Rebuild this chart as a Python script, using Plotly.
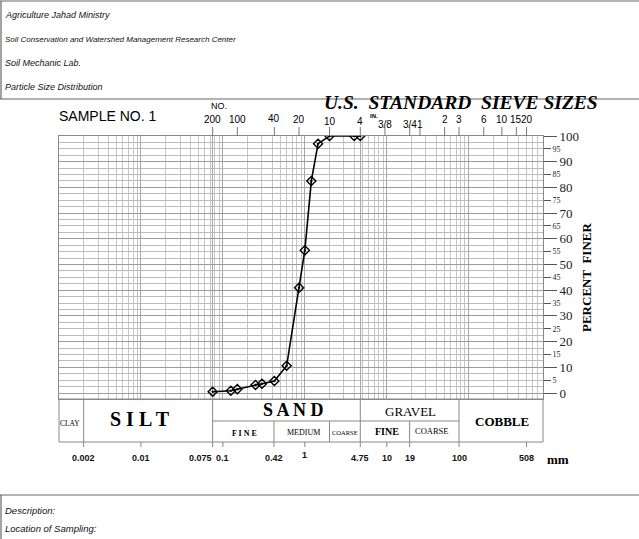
import numpy as np
import plotly.graph_objects as go

# sieve analysis
grain_mm = [0.075, 0.125, 0.15, 0.25, 0.30, 0.425, 0.60, 0.85, 1.0, 1.2, 1.45, 2.0, 4.0, 4.75]
pct_finer = [0.5, 0.9, 1.5, 3.1, 3.6, 4.7, 10.6, 41.0, 55.5, 82.5, 97.0, 100, 100, 100]

# US standard sieves along the top
sieve_no = ["200", "100", "40", "20", "10", "4"]
sieve_no_mm = [0.075, 0.15, 0.425, 0.85, 2.0, 4.75]
sieve_in = ["3/8", "3/4", "1", "2", "3", "6", "10", "15", "20"]
sieve_in_mm = [9.5, 19.05, 25.4, 50.8, 76.2, 152.4, 254.0, 381.0, 508.0]

# grain size marks under the table
size_labels = ["0.002", "0.01", "0.075", "0.1", "0.42", "1", "4.75", "10", "19", "100", "508"]
size_mm = [0.002, 0.01, 0.075, 0.1, 0.42, 1.0, 4.75, 10, 19, 76.2, 508]

# classification table
zone_edges = [0.002, 0.075, 4.75, 76.2]
sub_edges = [0.42, 2.0, 19.0]

pct_major = list(range(0, 101, 10))
pct_minor = list(range(5, 100, 10))

header = ["Agriculture Jahad Ministry",
          "Soil Conservation and Watershed Management Research Center",
          "Soil Mechanic Lab.",
          "Particle Size Distribution"]
header_size = [9, 8, 9, 9]
footer = ["Description:", "Location of Sampling:"]

SERIF = "Liberation Serif, Times New Roman, serif"
SANS = "Liberation Sans, Arial, sans-serif"

W, H = 639, 539
L, R, T, B = 59, 96, 136, 140
PW, PH = W - L - R, H - T - B


def fx(px):
    return (px - L) / PW


def fy(py):
    return (H - B - py) / PH


fig = go.Figure()
fig.add_trace(go.Scatter(
    x=grain_mm, y=pct_finer, mode="lines+markers",
    line=dict(color="black", width=1.6),
    marker=dict(symbol="diamond-open-dot", size=7, color="black", line=dict(width=1.4)),
    showlegend=False))

# log grid lines 2..9 in each decade
minor_x = [n * 10.0 ** k for k in range(-3, 3) for n in range(2, 10)]
major_x = [10.0 ** k for k in range(-3, 3)] + [0.075, 4.75]

shapes = []
line_c = "#666"
# table under the grid
shapes.append(dict(type="rect", xref="paper", yref="paper", x0=0, x1=1, y0=0, y1=fy(442),
                   line=dict(color="#888", width=1)))
shapes.append(dict(type="line", xref="x", yref="paper", x0=zone_edges[1], x1=zone_edges[3],
                   y0=fy(421), y1=fy(421), line=dict(color="#888", width=1)))
for e in zone_edges:
    shapes.append(dict(type="line", xref="x", yref="paper", x0=e, x1=e, y0=0, y1=fy(442),
                       line=dict(color="#888", width=1)))
for e in sub_edges:
    shapes.append(dict(type="line", xref="x", yref="paper", x0=e, x1=e, y0=fy(421), y1=fy(442),
                       line=dict(color="#888", width=1)))
for v in size_mm:
    shapes.append(dict(type="line", xref="x", yref="paper", x0=v, x1=v, y0=fy(442), y1=fy(447),
                       line=dict(color="#888", width=1)))
for v in sieve_no_mm + sieve_in_mm:
    shapes.append(dict(type="line", xref="x", yref="paper", x0=v, x1=v, y0=1, y1=fy(127),
                       line=dict(color="#777", width=1)))

# page frame
for (x0, y0, x1, y1) in [(0, 1, W, 1), (1, 1, 1, 99), (0, 99, W, 99), (0, 495, W, 495), (1, 495, 1, H)]:
    shapes.append(dict(type="line", xref="paper", yref="paper", x0=fx(x0), x1=fx(x1),
                       y0=fy(y0), y1=fy(y1), line=dict(color=line_c, width=1.2)))

ann = []


def text(s, px, py, size, family=SERIF, color="black", anchor="center", angle=0, xref="paper", x=None):
    ann.append(dict(text=s, x=fx(px) if x is None else x, y=fy(py), xref=xref, yref="paper",
                    xanchor=anchor, yanchor="middle", showarrow=False, textangle=angle,
                    font=dict(size=size, family=family, color=color)))


for i, s in enumerate(header):
    text("<i>" + s + "</i>", 3, 15 + 24 * i, header_size[i], SANS, "#111", "left")
for i, s in enumerate(footer):
    text("<i>" + s + "</i>", 3, 510 + 18 * i, 9.5, SANS, "#111", "left")

text("SAMPLE NO. 1", 57, 116, 14, SANS, anchor="left")
text("<b><i>U.S.  STANDARD  SIEVE SIZES</i></b>", 461, 103, 19.5)
text("NO.", 219, 106, 9, SANS)
text("<b>IN.</b>", 374, 116, 6, SANS)

sieve_y = [120, 120, 118, 120, 121, 121]
for s, v, yy in zip(sieve_no, sieve_no_mm, sieve_y):
    text(s, 0, yy, 10, SANS, xref="x", x=np.log10(v))
in_y = [124, 124, 124, 120, 120, 119, 120, 120, 120]
for s, v, yy in zip(sieve_in, sieve_in_mm, in_y):
    text(s, 0, yy, 10, SANS, xref="x", x=np.log10(v))

for s, v in zip(size_labels, size_mm):
    yy = 455 if s == "1" else 458
    ann.append(dict(text="<b>" + s + "</b>", x=np.log10(v), y=fy(yy), xref="x", yref="paper",
                    xanchor="right" if s == "0.075" else "center", yanchor="middle",
                    xshift=1 if s == "0.075" else 0, showarrow=False,
                    font=dict(size=9, family=SANS, color="#111")))
text("<b>mm</b>", 558, 459, 13, SERIF)

# classification table labels
text("CLAY", 70, 423, 7.5, SERIF)
text("<b>S I L T</b>", 140, 419, 20, SERIF)
text("<b>S A N D</b>", 293, 410, 18, SERIF)
text("GRAVEL", 410, 411, 13, SERIF)
text("<b>COBBLE</b>", 502, 421, 13, SERIF)
text("<b>F I N E</b>", 244, 433, 8, SERIF)
text("MEDIUM", 303, 432, 8, SERIF)
text("COARSE", 345, 432, 6.5, SERIF)
text("<b>FINE</b>", 387, 431, 10, SERIF)
text("COARSE", 432, 431, 8.5, SERIF)

text("<b>PERCENT  FINER</b>", 586, 278, 13, SERIF, angle=-90)

fig.update_layout(
    width=W, height=H, margin=dict(l=L, r=R, t=T, b=B),
    paper_bgcolor="white", plot_bgcolor="white",
    shapes=shapes, annotations=ann,
    xaxis=dict(type="log", range=[np.log10(0.001), np.log10(806)],
               tickmode="array", tickvals=major_x, showticklabels=False, ticks="",
               showgrid=True, gridcolor="#a8a8a8", gridwidth=1,
               minor=dict(tickmode="array", tickvals=minor_x, showgrid=True,
                          gridcolor="#c6c6c6", ticks=""),
               showline=True, linecolor="#888", mirror=True, zeroline=False),
    yaxis=dict(range=[-2.33, 100], side="right", tickmode="array", tickvals=pct_major,
               ticks="outside", ticklen=13, tickcolor="#555",
               tickfont=dict(family=SERIF, size=13, color="#222"),
               showgrid=True, gridcolor="#9c9c9c",
               minor=dict(tickmode="array", tickvals=list(np.arange(0, 100.1, 2.5)),
                          showgrid=True, gridcolor="#bcbcbc", ticks=""),
               showline=True, linecolor="#888", mirror=True, zeroline=False),
    yaxis2=dict(range=[-2.33, 100], overlaying="y", side="right", tickmode="array",
                tickvals=pct_minor, ticks="outside", ticklen=7, tickcolor="#555",
                tickfont=dict(family=SERIF, size=8, color="#222"),
                showgrid=False, zeroline=False, showline=False),
)
fig.add_trace(go.Scatter(x=grain_mm[:1], y=pct_finer[:1], yaxis="y2", mode="markers",
                         marker=dict(opacity=0), showlegend=False, hoverinfo="skip"))

fig.write_html("out.html", config={"displayModeBar": False},
               post_script="document.body.style.margin='0';")
